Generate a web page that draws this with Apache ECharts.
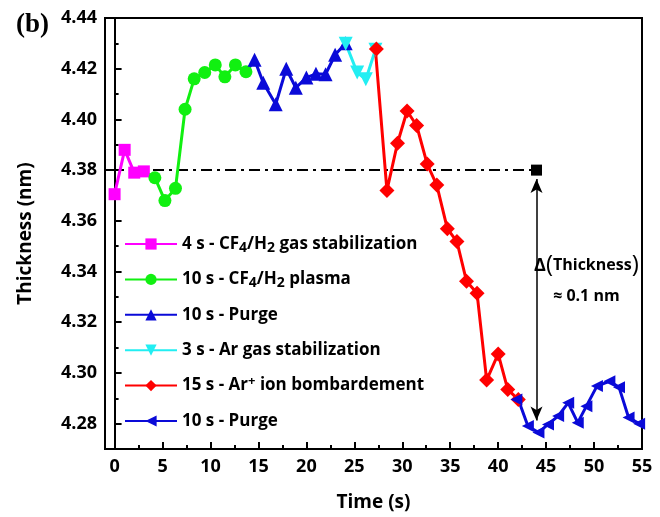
<!DOCTYPE html>
<html>
<head>
<meta charset="utf-8">
<script src="https://cdn.jsdelivr.net/npm/echarts@6/dist/echarts.min.js"></script>
<style>
  html, body { margin: 0; padding: 0; background: #fff; }
  #chart { width: 660px; height: 517px; }
</style>
</head>
<body>
<div id="chart"></div>
<script>
// thickness vs time, one array pair per process step
const magentaTime = [0, 1.05, 2.05, 3.05]
const magentaThk = [4.3705, 4.3880, 4.3790, 4.3795]

const greenTime = [4.2, 5.25, 6.35, 7.35, 8.3, 9.4, 10.5, 11.5, 12.6, 13.7]
const greenThk = [4.3770, 4.3680, 4.3728, 4.4040, 4.4160, 4.4185, 4.4215, 4.4168, 4.4215, 4.4188]

const purge1Time = [14.6, 15.5, 16.8, 17.9, 18.9, 20.0, 21.0, 22.0, 23.0, 24.1]
const purge1Thk = [4.4235, 4.4145, 4.4060, 4.4200, 4.4125, 4.4165, 4.4180, 4.4178, 4.4255, 4.4300]

const cyanTime = [24.1, 25.3, 26.2, 27.2]
const cyanThk = [4.4298, 4.4185, 4.4158, 4.4275]

const redTime = [27.3, 28.4, 29.5, 30.5, 31.5, 32.6, 33.6, 34.7, 35.7, 36.7, 37.8, 38.8, 40.0, 41.0, 42.1]
const redThk = [4.4278, 4.3720, 4.3906, 4.4033, 4.3976, 4.3824, 4.3741, 4.3569, 4.3518, 4.3362, 4.3314, 4.2972, 4.3075, 4.2935, 4.2895]

const purge2Time = [41.9, 43.1, 44.2, 45.2, 46.25, 47.3, 48.3, 49.2, 50.3, 51.6, 52.6, 53.6, 54.7]
const purge2Thk = [4.2895, 4.2791, 4.2765, 4.2797, 4.2830, 4.2882, 4.2804, 4.2869, 4.2948, 4.2967, 4.2944, 4.2824, 4.2800]

const seriesNames = [
  '4 s - CF4/H2 gas stabilization',
  '10 s - CF4/H2 plasma',
  '10 s - Purge',
  '3 s - Ar gas stabilization',
  '15 s - Ar+ ion bombardement',
  '10 s - Purge ' // trailing space so the legend keeps both purge entries
]

// ticks
const xMajor = [0, 5, 10, 15, 20, 25, 30, 35, 40, 45, 50, 55]
const xMinor = [2.5, 7.5, 12.5, 17.5, 22.5, 27.5, 32.5, 37.5, 42.5, 47.5, 52.5]
const yMajor = [4.28, 4.30, 4.32, 4.34, 4.36, 4.38, 4.40, 4.42, 4.44]
const yMinor = [4.27, 4.29, 4.31, 4.33, 4.35, 4.37, 4.39, 4.41, 4.43]

// reference line and arrow
const refTime = [-1, 44]
const refThk = 4.38
const arrowTime = 44
const arrowEnds = [4.3765, 4.2812]
const annotTime = 49.2
const annotThk = [4.3424, 4.3302]

const FONT = 'Open Sans'

const chart = echarts.init(document.getElementById('chart'), null, { renderer: 'canvas' })

const steps = [
  { t: magentaTime, v: magentaThk, color: '#ff00ff', symbol: 'rect', size: 12 },
  { t: greenTime, v: greenThk, color: '#11f011', symbol: 'circle', size: 13 },
  { t: purge1Time, v: purge1Thk, color: '#0a0ad8', symbol: 'triangle', size: 14 },
  { t: cyanTime, v: cyanThk, color: '#22eef2', symbol: 'path://M0,0L10,0L5,9Z', size: 14 },
  { t: redTime, v: redThk, color: '#ff0000', symbol: 'diamond', size: 15 },
  { t: purge2Time, v: purge2Thk, color: '#0a0ad8', symbol: 'path://M0,5L9,0L9,10Z', size: 12 }
]

const stepSeries = steps.map((s, i) => {
  const data = s.t.map((t, j) => [t, s.v[j]])
  // join to the last point of the previous step
  if (i > 0) {
    const p = steps[i - 1]
    data.unshift({ value: [p.t[p.t.length - 1], p.v[p.v.length - 1]], symbol: 'none' })
  }
  return {
    name: seriesNames[i],
    type: 'line',
    data: data,
    symbol: s.symbol,
    symbolSize: s.size,
    showAllSymbol: true,
    color: s.color,
    lineStyle: { width: 3, color: s.color },
    itemStyle: { color: s.color, borderWidth: 0 }
  }
})

// dash-dot line, arrow and text sit on the second (minor tick) axes, same range
const refSeries = {
  name: 'ref',
  type: 'line',
  xAxisIndex: 1,
  yAxisIndex: 1,
  z: 1,
  data: refTime.map((t, j) => j === 0 ? { value: [t, refThk], symbol: 'none' } : [t, refThk]),
  symbol: 'rect',
  symbolSize: 11,
  lineStyle: { color: '#000', width: 2, type: [11, 5, 3, 5] },
  itemStyle: { color: '#000' },
  markLine: {
    silent: true,
    symbol: ['arrow', 'arrow'],
    symbolSize: [9, 14],
    lineStyle: { color: '#000', type: 'solid', width: 1.5 },
    label: { show: false },
    data: [[{ coord: [arrowTime, arrowEnds[0]] }, { coord: [arrowTime, arrowEnds[1]] }]]
  },
  markPoint: {
    silent: true,
    symbol: 'circle',
    symbolSize: 1,
    itemStyle: { color: 'rgba(0,0,0,0)' },
    label: {
      show: true,
      position: 'inside',
      color: '#000',
      fontFamily: FONT,
      fontWeight: 'bold',
      fontSize: 16
    },
    data: [
      {
        coord: [annotTime, annotThk[0]],
        label: {
          formatter: '{d|Δ}{p|(}{t|Thickness}{p|)}',
          rich: {
            d: { fontFamily: FONT, fontWeight: 'bold', fontSize: 18, color: '#000' },
            p: { fontFamily: FONT, fontWeight: 'normal', fontSize: 24, color: '#000' },
            t: { fontFamily: FONT, fontWeight: 'bold', fontSize: 16, color: '#000' }
          }
        }
      },
      { coord: [annotTime, annotThk[1]], label: { formatter: '≈ 0.1 nm' } }
    ]
  }
}

const tickLabel = { fontFamily: FONT, fontWeight: 'bold', fontSize: 18, color: '#000' }
const axisName = { fontFamily: FONT, fontWeight: 'bold', fontSize: 19, color: '#000' }
const tickLine = { color: '#000', width: 2 }

const option = {
  animation: false,
  backgroundColor: '#fff',
  grid: {
    left: 105, right: 18, top: 18, bottom: 65,
    show: true, borderColor: '#000', borderWidth: 2
  },
  xAxis: [
    {
      type: 'value', min: -1, max: 55,
      name: 'Time (s)', nameLocation: 'middle', nameGap: 44, nameTextStyle: axisName,
      axisLine: { lineStyle: tickLine },
      axisTick: { show: true, inside: true, length: 7, customValues: xMajor, lineStyle: tickLine },
      axisLabel: { customValues: xMajor, margin: 9, ...tickLabel },
      splitLine: { show: false }
    },
    {
      // minor ticks only
      type: 'value', min: -1, max: 55, position: 'bottom', show: true,
      axisLine: { show: false },
      axisTick: { show: true, inside: true, length: 4, customValues: xMinor, lineStyle: tickLine },
      axisLabel: { show: true, customValues: xMinor, formatter: () => '' },
      splitLine: { show: false }
    }
  ],
  yAxis: [
    {
      type: 'value', min: 4.27, max: 4.44,
      name: 'Thickness (nm)', nameLocation: 'middle', nameGap: 70, nameTextStyle: axisName,
      axisLine: { show: true, lineStyle: tickLine },
      axisTick: { show: true, inside: true, length: 7, customValues: yMajor, lineStyle: tickLine },
      axisLabel: { customValues: yMajor, margin: 8, formatter: v => v.toFixed(2), ...tickLabel },
      splitLine: { show: false }
    },
    {
      type: 'value', min: 4.27, max: 4.44, position: 'left', show: true,
      axisLine: { show: false },
      axisTick: { show: true, inside: true, length: 4, customValues: yMinor, lineStyle: tickLine },
      axisLabel: { show: true, customValues: yMinor, formatter: () => '' },
      splitLine: { show: false }
    }
  ],
  legend: {
    orient: 'vertical',
    left: 124,
    top: 233,
    padding: 0,
    itemWidth: 52,
    itemHeight: 14,
    itemGap: 13.4,
    data: seriesNames,
    formatter: name => name.trim()
      .replace('CF4/H2', 'CF{sub|4}/H{sub|2}')
      .replace('Ar+', 'Ar{sup|+}'),
    textStyle: {
      fontFamily: FONT, fontWeight: 'bold', fontSize: 17, color: '#000', lineHeight: 22,
      rich: {
        sub: { fontFamily: FONT, fontWeight: 'bold', fontSize: 14, color: '#000', verticalAlign: 'bottom', lineHeight: 12 },
        sup: { fontFamily: FONT, fontWeight: 'bold', fontSize: 13, color: '#000', verticalAlign: 'top', lineHeight: 10 }
      }
    }
  },
  graphic: [
    {
      type: 'text', left: 16, top: 12,
      style: { text: '(b)', fontSize: 27, fontWeight: 'bold', fontFamily: 'Liberation Serif', fill: '#000' }
    }
  ],
  series: [refSeries, ...stepSeries]
}

chart.setOption(option)
</script>
</body>
</html>
